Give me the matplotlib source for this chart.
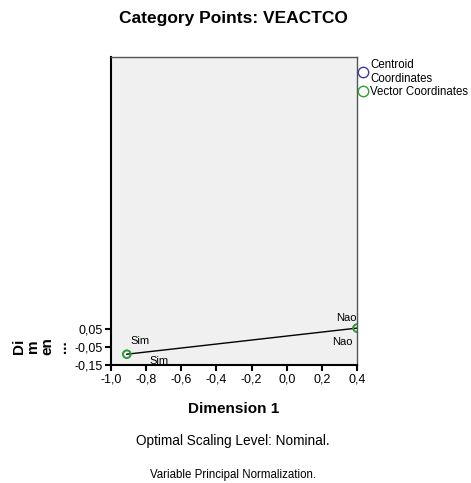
import matplotlib
matplotlib.use('Agg')
import matplotlib.pyplot as plt
from matplotlib.ticker import FuncFormatter
from matplotlib.lines import Line2D

plt.rcParams['font.family'] = ['Liberation Sans', 'DejaVu Sans']

# category points
categories = ['Sim', 'Nao']
dim1 = [-0.91, 0.40]
dim2 = [-0.09, 0.055]

xticks = [-1.0, -0.8, -0.6, -0.4, -0.2, 0.0, 0.2, 0.4]
yticks = [0.05, -0.05, -0.15]

fig = plt.figure(figsize=(4.71, 4.83), dpi=100)
ax = fig.add_axes([111/471, 1 - 365/483, 246/471, 308/483])
ax.set_facecolor('#f0f0f0')

# vector line and points (centroid + vector coincide)
ax.plot(dim1, dim2, color='black', lw=1, zorder=2)
ax.scatter(dim1, dim2, s=30, facecolors='none', edgecolors='#3a3aa8', lw=1, zorder=3)
ax.scatter(dim1, dim2, s=30, facecolors='none', edgecolors='#2ca02c', lw=1.3, zorder=4)

# labels: centroid and vector labels
ax.annotate(categories[0], (dim1[0], dim2[0]), xytext=(3, 7), textcoords='offset points', fontsize=8)
ax.annotate(categories[0], (dim1[0], dim2[0]), xytext=(16, -7), textcoords='offset points', fontsize=8)
ax.annotate(categories[1], (dim1[1], dim2[1]), xytext=(-15, 5), textcoords='offset points', fontsize=8)
ax.annotate(categories[1], (dim1[1], dim2[1]), xytext=(-18, -12), textcoords='offset points', fontsize=8)

ax.set_xlim(-1.0, 0.4)
ax.set_ylim(-0.15, -0.15 + 308/180)
ax.set_xticks(xticks)
ax.set_yticks(yticks)
ax.xaxis.set_major_formatter(FuncFormatter(lambda v, p: ('%.1f' % v).replace('.', ',')))
ax.yaxis.set_major_formatter(FuncFormatter(lambda v, p: ('%.2f' % v).replace('.', ',')))
ax.tick_params(labelsize=9, width=1.5, length=4, color='black', pad=2)

for s in ['left', 'bottom']:
    ax.spines[s].set_linewidth(1.5)
    ax.spines[s].set_color('black')
for s in ['top', 'right']:
    ax.spines[s].set_linewidth(1)
    ax.spines[s].set_color('#555555')

ax.set_xlabel('Dimension 1', fontsize=11, fontweight='bold', labelpad=12)
ax.set_ylabel('Di\nm\nen\n...', fontsize=11, fontweight='bold', linespacing=1.05)
ax.yaxis.set_label_coords(-0.17, 0.06)

fig.text(233/471, 1 - 18/483, 'Category Points: VEACTCO', ha='center', va='center',
         fontsize=12.5, fontweight='bold')

handles = [Line2D([], [], ls='none', marker='o', mfc='none', mec='#3a3aa8', ms=7.5),
           Line2D([], [], ls='none', marker='o', mfc='none', mec='#2ca02c', ms=7.5)]
fig.legend(handles, ['Centroid\nCoordinates', 'Vector Coordinates'], loc='upper left',
           bbox_to_anchor=(357/471, 1 - 59/483), frameon=False, fontsize=8.3,
           handletextpad=0.15, handlelength=1.0, borderaxespad=0, labelspacing=0.1,
           borderpad=0)

fig.text(233/471, 1 - 441/483, 'Optimal Scaling Level: Nominal.', ha='center', va='center', fontsize=9.8)
fig.text(233/471, 1 - 475/483, 'Variable Principal Normalization.', ha='center', va='center', fontsize=8.3)

fig.savefig('out.png', dpi=100)
